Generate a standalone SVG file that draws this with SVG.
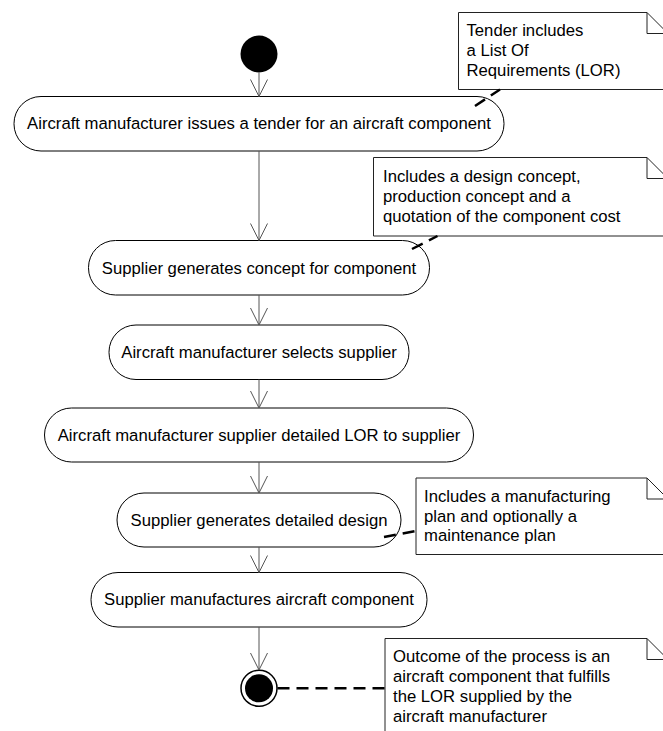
<svg xmlns="http://www.w3.org/2000/svg" width="663" height="731" viewBox="0 0 663 731">
<style>
  text { font-family: "Liberation Sans", Arial, sans-serif; font-size: 16.7px; fill: #000; }
  .act { fill: #fff; stroke: #000; stroke-width: 1; }
  .lbl { text-anchor: middle; }
  .note { fill: #fff; stroke: #222; stroke-width: 1; }
  .fold { fill: none; stroke: #222; stroke-width: 1; }
  .flow { fill: none; stroke: #555; stroke-width: 1; marker-end: url(#arr); }
  .anchor { fill: none; stroke: #000; stroke-width: 2.5; stroke-dasharray: 12 7; }
</style>
<defs>
  <marker id="arr" markerUnits="userSpaceOnUse" markerWidth="20" markerHeight="20" viewBox="-18 -10 20 20" refX="0" refY="0" orient="auto" overflow="visible">
    <path d="M-17,-8.5 L0,0 L-17,8.5" fill="none" stroke="#555" stroke-width="1"/>
  </marker>
</defs>
<rect width="663" height="731" fill="#fff"/>

<g id="start">
  <circle cx="259" cy="54" r="18.5" fill="#000"/>
</g>

<g id="node1">
  <rect class="act" x="14" y="96.5" width="490" height="54.5" rx="27" ry="27"/>
  <text class="lbl" x="259" y="129.3">Aircraft manufacturer issues a tender for an aircraft component</text>
</g>

<g id="node2">
  <rect class="act" x="88.5" y="240.5" width="341" height="54.5" rx="27" ry="27"/>
  <text class="lbl" x="259" y="273.5">Supplier generates concept for component</text>
</g>

<g id="node3">
  <rect class="act" x="109" y="325" width="300" height="54.5" rx="27" ry="27"/>
  <text class="lbl" x="259" y="357.8">Aircraft manufacturer selects supplier</text>
</g>

<g id="node4">
  <rect class="act" x="44.5" y="408" width="429" height="54" rx="27" ry="27"/>
  <text class="lbl" x="259" y="440.5">Aircraft manufacturer supplier detailed LOR to supplier</text>
</g>

<g id="node5">
  <rect class="act" x="117" y="493" width="284" height="54" rx="27" ry="27"/>
  <text class="lbl" x="259" y="525.5">Supplier generates detailed design</text>
</g>

<g id="node6">
  <rect class="act" x="91" y="572.5" width="336" height="54.5" rx="27" ry="27"/>
  <text class="lbl" x="259" y="605.3">Supplier manufactures aircraft component</text>
</g>

<g id="end">
  <circle cx="259" cy="688.3" r="18" fill="#fff" stroke="#000" stroke-width="1.5"/>
  <circle cx="259" cy="688.3" r="14" fill="#000"/>
</g>

<g id="note1">
  <path class="note" d="M458.5,12.5 H647 L668,33.5 V89.5 H458.5 Z"/>
  <path class="fold" d="M647,12.5 V33.5 H668"/>
  <text x="466.5" y="36">Tender includes</text>
  <text x="466.5" y="56">a List Of</text>
  <text x="466.5" y="76">Requirements (LOR)</text>
</g>

<g id="note2">
  <path class="note" d="M373.5,157.5 H647 L668,178.5 V236 H373.5 Z"/>
  <path class="fold" d="M647,157.5 V178.5 H668"/>
  <text x="383" y="182">Includes a design concept,</text>
  <text x="383" y="202">production concept and a</text>
  <text x="383" y="222">quotation of the component cost</text>
</g>

<g id="note3">
  <path class="note" d="M416,478 H647 L668,499 V554.5 H416 Z"/>
  <path class="fold" d="M647,478 V499 H668"/>
  <text x="424" y="501.5">Includes a manufacturing</text>
  <text x="424" y="521.5">plan and optionally a</text>
  <text x="424" y="540.5">maintenance plan</text>
</g>

<g id="note4">
  <path class="note" d="M385,638.5 H647 L668,659.5 V740 H385 Z"/>
  <path class="fold" d="M647,638.5 V659.5 H668"/>
  <text x="393" y="661.7">Outcome of the process is an</text>
  <text x="393" y="681.7">aircraft component that fulfills</text>
  <text x="393" y="701.7">the LOR supplied by the</text>
  <text x="393" y="721.7">aircraft manufacturer</text>
</g>

<g id="connectors">
  <line class="flow" x1="259" y1="72.5" x2="259" y2="96.5"/>
  <line class="flow" x1="259" y1="151" x2="259" y2="240.5"/>
  <line class="flow" x1="259" y1="295" x2="259" y2="325"/>
  <line class="flow" x1="259" y1="379.5" x2="259" y2="408"/>
  <line class="flow" x1="259" y1="462" x2="259" y2="493"/>
  <line class="flow" x1="259" y1="547" x2="259" y2="572.5"/>
  <line class="flow" x1="259" y1="627" x2="259" y2="670"/>
  <line class="anchor" x1="475" y1="106" x2="500" y2="89.5"/>
  <line class="anchor" x1="412" y1="249" x2="437.5" y2="236"/>
  <line class="anchor" x1="384" y1="537" x2="416" y2="531"/>
  <line class="anchor" x1="277.5" y1="688.3" x2="385" y2="688.3"/>
</g>
</svg>
